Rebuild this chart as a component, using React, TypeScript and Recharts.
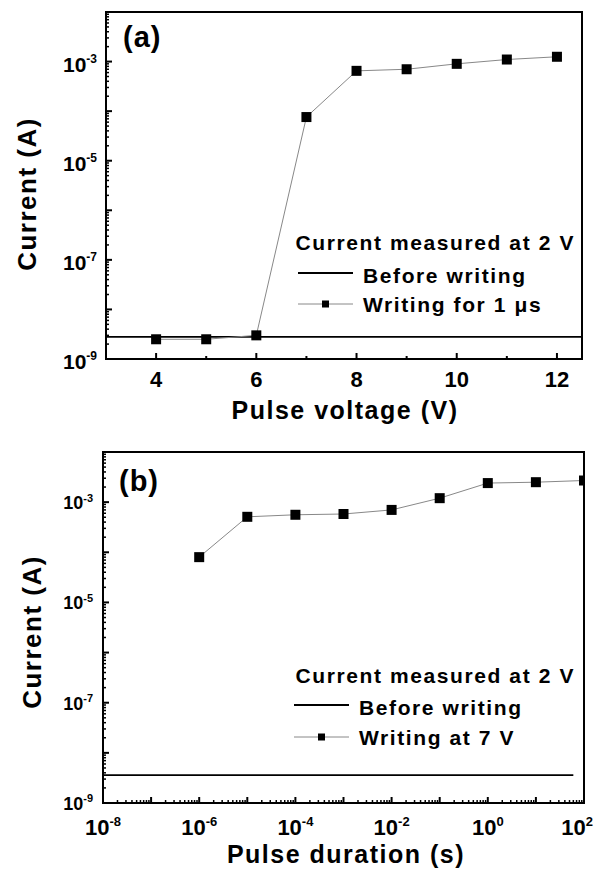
import { LineChart, Line, XAxis, YAxis, ReferenceLine, ReferenceArea, Label } from 'recharts'

// ============================================
// Data
// ============================================

const VOLTAGE = [4, 5, 6, 7, 8, 9, 10, 11, 12]
const CURRENT_VS_VOLTAGE = [2.5e-9, 2.5e-9, 3e-9, 7.6e-5, 6.5e-4, 7e-4, 9e-4, 1.1e-3, 1.25e-3]
const BEFORE_A = 2.8e-9

const DURATION = [1e-6, 1e-5, 1e-4, 1e-3, 1e-2, 1e-1, 1, 10, 100]
const CURRENT_VS_DURATION = [8e-5, 5.1e-4, 5.6e-4, 5.8e-4, 7e-4, 1.2e-3, 2.4e-3, 2.5e-3, 2.7e-3]
const BEFORE_B = 3.6e-9
const BEFORE_B_SPAN = [1e-8, 60]

// ticks
const VOLTAGE_TICKS = [4, 5, 6, 7, 8, 9, 10, 11, 12]
const VOLTAGE_LABELS = [4, 6, 8, 10, 12]
const CURRENT_EXPONENTS = [-9, -8, -7, -6, -5, -4, -3, -2]
const CURRENT_LABELS = [-9, -7, -5, -3]
const DURATION_EXPONENTS = [-8, -7, -6, -5, -4, -3, -2, -1, 0, 1, 2]
const DURATION_LABELS = [-8, -6, -4, -2, 0, 2]
const MINOR_STEPS = [2, 3, 4, 5, 6, 7, 8, 9]

// text
const TITLE_A = '(a)'
const TITLE_B = '(b)'
const X_TITLE_A = 'Pulse voltage (V)'
const X_TITLE_B = 'Pulse duration (s)'
const Y_TITLE = 'Current (A)'
const LEGEND_HEADER = 'Current measured at 2 V'
const LEGEND_BEFORE = 'Before writing'
const LEGEND_A = 'Writing for 1 \u03bcs'
const LEGEND_B = 'Writing at 7 V'

const FONT = '"Liberation Sans", Arial, Helvetica, sans-serif'
const W = 594
const TOP_H = 430
const BOTTOM_H = 875 - TOP_H

// build log ticks: decades + minor steps
const logTicks = (exps: number[]) => {
  const out: number[] = []
  exps.forEach((e, i) => {
    out.push(Number((10 ** e).toPrecision(3)))
    if (i < exps.length - 1) {
      MINOR_STEPS.forEach(m => out.push(Number((m * 10 ** e).toPrecision(3))))
    }
  })
  return out
}

const decadeOf = (v: number) => {
  const e = Math.log10(v)
  const r = Math.round(e)
  return Math.abs(e - r) < 1e-6 ? r : null
}

// ============================================
// Tick helpers
// ============================================

function Pow({ x, y, exp, size, sup, anchor }: any) {
  return (
    <text x={x} y={y} textAnchor={anchor} fontFamily={FONT} fontWeight="bold" fontSize={size} fill="#000">
      10<tspan dy={-size * 0.42} fontSize={sup}>{exp}</tspan>
    </text>
  )
}

const makeYTick = (labels: number[], size: number, sup: number, gap: number, shift: number) =>
  function YTick(props: any) {
    const { x, y, payload } = props
    const d = decadeOf(payload.value)
    const major = d !== null
    const len = major ? 6 : 3
    return (
      <g>
        <line x1={x} x2={x + len} y1={y} y2={y} stroke="#000" strokeWidth={major ? 2 : 1.5} />
        {major && labels.includes(d as number) && (
          <Pow x={x - gap} y={y + shift} exp={d} size={size} sup={sup} anchor="end" />
        )}
      </g>
    )
  }

function VoltageTick(props: any) {
  const { x, y, payload } = props
  const major = VOLTAGE_LABELS.includes(payload.value)
  return (
    <g>
      <line x1={x} x2={x} y1={y} y2={y - (major ? 6 : 3)} stroke="#000" strokeWidth={2} />
      {major && (
        <text x={x} y={y + 28} textAnchor="middle" fontFamily={FONT} fontWeight="bold" fontSize={22} fill="#000">
          {payload.value}
        </text>
      )}
    </g>
  )
}

function DurationTick(props: any) {
  const { x, y, payload } = props
  const d = decadeOf(payload.value)
  const major = d !== null
  const last = d === DURATION_LABELS[DURATION_LABELS.length - 1]
  return (
    <g>
      <line x1={x} x2={x} y1={y} y2={y - (major ? 6 : 3)} stroke="#000" strokeWidth={major ? 2 : 1.5} />
      {major && DURATION_LABELS.includes(d as number) && (
        <Pow
          x={last ? W - 1 : x}
          y={y + 32}
          exp={d}
          size={22}
          sup={13}
          anchor={last ? 'end' : 'middle'}
        />
      )}
    </g>
  )
}

const YTickA = makeYTick(CURRENT_LABELS, 21, 12, 9, 10)
const YTickB = makeYTick(CURRENT_LABELS, 18, 11, 10, 7)

// square marker
const square = (size: number) => (props: any) => {
  const { cx, cy, index } = props
  if (cx == null || cy == null) return <g key={index} />
  return <rect key={index} x={cx - size / 2} y={cy - size / 2} width={size} height={size} fill="#000" />
}

// ============================================
// Overlays (panel letter + legend), drawn in chart coords
// ============================================

const textStyle = { fontFamily: FONT, fontWeight: 'bold' as const, fill: '#000' }

function Overlay({ title, tx, ty, rows, series }: any) {
  return (
    <g>
      <text x={tx} y={ty} fontSize={29} letterSpacing={1} {...textStyle}>{title}</text>
      <text x={575} y={rows[0]} textAnchor="end" fontSize={21} letterSpacing={1.6} {...textStyle}>{LEGEND_HEADER}</text>
      <line x1={rows[3]} x2={rows[3] + 55} y1={rows[1] - 10} y2={rows[1] - 10} stroke="#000" strokeWidth={1.8} />
      <text x={rows[3] + 65} y={rows[1]} fontSize={21} letterSpacing={1.6} {...textStyle}>{LEGEND_BEFORE}</text>
      <line x1={rows[3]} x2={rows[3] + 55} y1={rows[2] - 8} y2={rows[2] - 8} stroke="#888" strokeWidth={1} />
      <rect x={rows[3] + 24} y={rows[2] - 11.5} width={7} height={7} fill="#000" />
      <text x={rows[3] + 65} y={rows[2]} fontSize={21} letterSpacing={1.6} {...textStyle}>{series}</text>
    </g>
  )
}

const yTitle = (cx: number, cy: number) => () => (
  <text
    x={cx}
    y={cy}
    transform={`rotate(-90 ${cx} ${cy})`}
    textAnchor="middle"
    fontSize={26}
    letterSpacing={1.5}
    {...textStyle}
  >
    {Y_TITLE}
  </text>
)

const xTitle = (text: string, cx: number, cy: number) => () => (
  <text x={cx} y={cy} textAnchor="middle" fontSize={25} letterSpacing={1.5} {...textStyle}>
    {text}
  </text>
)

// ============================================
// Main
// ============================================

export default function App() {
  const dataA = VOLTAGE.map((v, i) => ({ x: v, y: CURRENT_VS_VOLTAGE[i] }))
  const dataB = DURATION.map((v, i) => ({ x: v, y: CURRENT_VS_DURATION[i] }))
  const off = TOP_H // bottom panel's page offset

  return (
    <div style={{ position: 'absolute', left: 0, top: 0, width: W, height: 875, background: '#fff' }}>
      {/* (a) */}
      <LineChart width={W} height={TOP_H} data={dataA} margin={{ top: 12, right: 12, left: 0, bottom: 0 }}>
        <XAxis
          dataKey="x"
          type="number"
          domain={[3, 12.5]}
          ticks={VOLTAGE_TICKS}
          interval={0}
          allowDataOverflow
          height={TOP_H - 12 - 347}
          axisLine={false}
          tickLine={false}
          tickSize={0}
          tickMargin={0}
          tick={VoltageTick}
          label={xTitle(X_TITLE_A, 345, 419)}
        />
        <YAxis
          type="number"
          scale="log"
          domain={[1e-9, 1e-2]}
          ticks={logTicks(CURRENT_EXPONENTS)}
          interval={0}
          allowDataOverflow
          width={106}
          axisLine={false}
          tickLine={false}
          tickSize={0}
          tickMargin={0}
          tick={YTickA}
          label={yTitle(36, 194)}
        />
        <ReferenceLine y={BEFORE_A} stroke="#000" strokeWidth={1.8} />
        <ReferenceArea x1={3} x2={12.5} y1={1e-9} y2={1e-2} fill="none" stroke="#000" strokeWidth={2}>
          <Label
            content={() => (
              <Overlay title={TITLE_A} tx={123} ty={47} rows={[250, 283, 312, 298]} series={LEGEND_A} />
            )}
          />
        </ReferenceArea>
        <Line
          dataKey="y"
          stroke="#888"
          strokeWidth={1}
          dot={square(10)}
          activeDot={false}
          isAnimationActive={false}
        />
      </LineChart>

      {/* (b) */}
      <LineChart width={W} height={BOTTOM_H} data={dataB} margin={{ top: 452 - off, right: 10, left: 0, bottom: 0 }}>
        <XAxis
          dataKey="x"
          type="number"
          scale="log"
          domain={[1e-8, 100]}
          ticks={logTicks(DURATION_EXPONENTS)}
          interval={0}
          allowDataOverflow
          height={BOTTOM_H - (452 - off) - 351}
          axisLine={false}
          tickLine={false}
          tickSize={0}
          tickMargin={0}
          tick={DurationTick}
          label={xTitle(X_TITLE_B, 346, 863 - off)}
        />
        <YAxis
          type="number"
          scale="log"
          domain={[1e-9, 1e-2]}
          ticks={logTicks(CURRENT_EXPONENTS)}
          interval={0}
          allowDataOverflow
          width={103}
          axisLine={false}
          tickLine={false}
          tickSize={0}
          tickMargin={0}
          tick={YTickB}
          label={yTitle(41, 632 - off)}
        />
        <ReferenceLine
          segment={[
            { x: BEFORE_B_SPAN[0], y: BEFORE_B },
            { x: BEFORE_B_SPAN[1], y: BEFORE_B },
          ]}
          stroke="#000"
          strokeWidth={1.8}
        />
        <ReferenceArea x1={1e-8} x2={100} y1={1e-9} y2={1e-2} fill="none" stroke="#000" strokeWidth={2}>
          <Label
            content={() => (
              <Overlay
                title={TITLE_B}
                tx={119}
                ty={491 - off}
                rows={[683 - off, 715 - off, 745 - off, 294]}
                series={LEGEND_B}
              />
            )}
          />
        </ReferenceArea>
        <Line
          dataKey="y"
          stroke="#888"
          strokeWidth={1}
          dot={square(10)}
          activeDot={false}
          isAnimationActive={false}
        />
      </LineChart>
    </div>
  )
}
